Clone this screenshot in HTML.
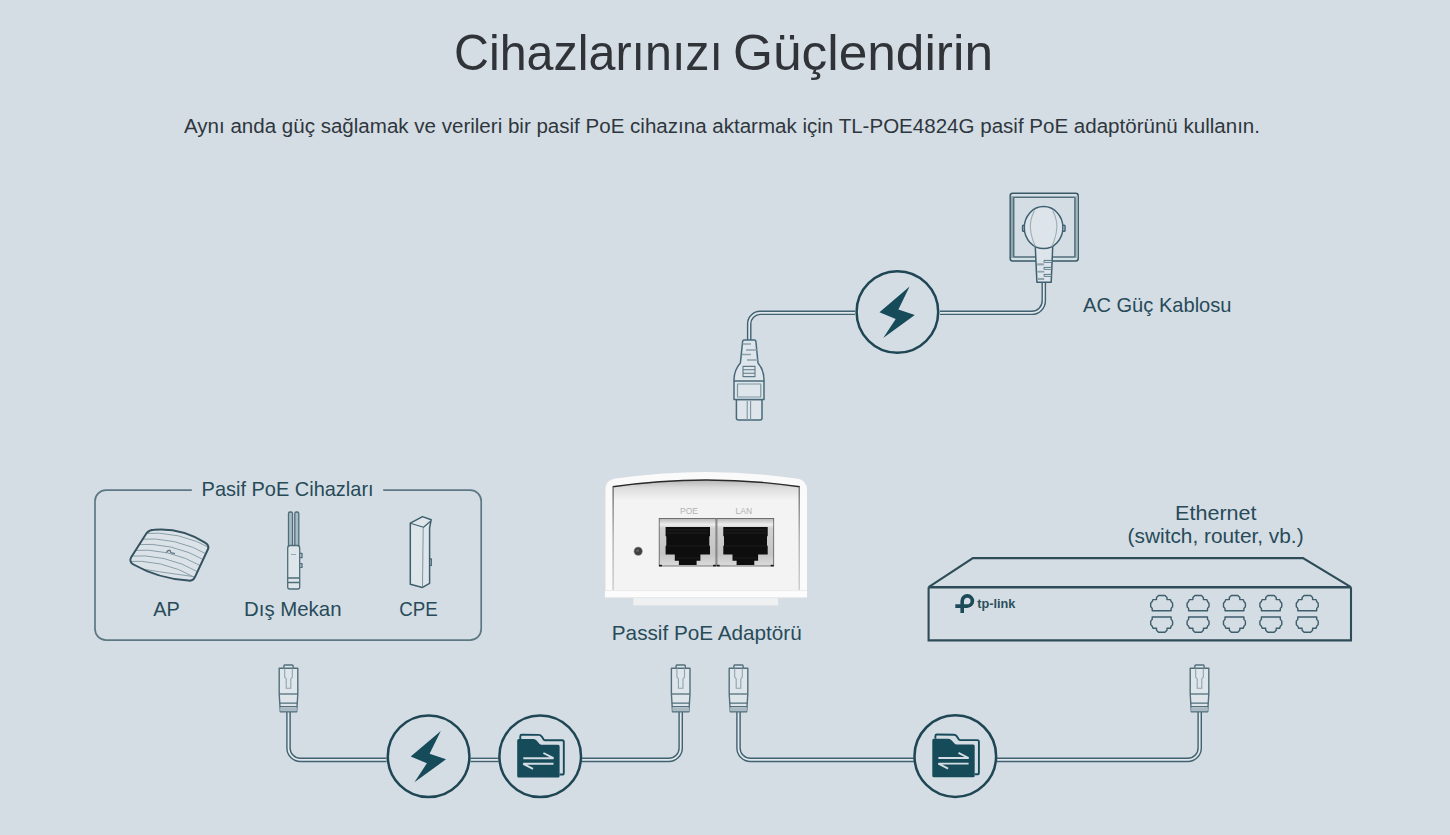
<!DOCTYPE html>
<html><head><meta charset="utf-8">
<style>
html,body{margin:0;padding:0;background:#d5dde4;width:1450px;height:835px;overflow:hidden;}
svg{position:absolute;left:0;top:0;display:block;}
text{font-family:"Liberation Sans",sans-serif;}
</style></head>
<body>
<svg width="1450" height="835" viewBox="0 0 1450 835">
<defs>
  <symbol id="rj45" overflow="visible">
    <!-- origin at center x, top y=665 -->
    <path d="M-4.6,3.2 L-4.6,0.8 Q-4.6,0 -3.8,0 L3.8,0 Q4.6,0 4.6,0.8 L4.6,3.2" fill="#dfe6eb" stroke="#526f7b" stroke-width="1.4"/>
    <path d="M-9.3,3.2 L9.3,3.2 L9.3,29 L8.2,46.8 L-8.2,46.8 L-9.3,29 Z" fill="#dfe6eb" stroke="#526f7b" stroke-width="1.4" stroke-linejoin="round"/>
    <path d="M-3.8,3.2 L-3.8,12 L-2.3,14 L-2.3,23.3 L2.3,23.3 L2.3,14 L3.8,12 L3.8,3.2" fill="none" stroke="#8ea3ad" stroke-width="1.1"/>
    <path d="M-9.3,29 L9.3,29" stroke="#526f7b" stroke-width="1.3"/>
    <path d="M-8.8,38.1 L8.8,38.1 M-8.6,41.7 L8.6,41.7" stroke="#526f7b" stroke-width="1.2"/>
    <path d="M-8.5,42.4 L8.5,42.4 L8.2,46.3 L-8.2,46.3 Z" fill="#a9bac3"/>
  </symbol>
  <symbol id="bolt" overflow="visible">
    <path d="M12.2,-25.4 L-17.9,0.3 L-1.7,6.9 L-14.2,26 L17.4,3 L1.0,-2.6 Z" fill="#164b59"/>
  </symbol>
  <symbol id="folder" overflow="visible">
    <!-- origin = circle center -->
  </symbol>
  <symbol id="port" overflow="visible">
    <path d="M7.2,20.8 L26.1,20.8 L26.1,18.4 L27.6,16.7 L27.6,13.2 L26.1,11.5 L25.5,9.6 L22,9.6 L22,7.5 L20,5.5 L13.5,5.5 L11.5,7.5 L11.5,9.6 L8,9.6 L7.2,11.5 L5.7,13.2 L5.7,16.7 L7.2,18.4 Z" fill="none" stroke="#3d5e6b" stroke-width="1.4" stroke-linejoin="round"/>
    <path d="M7.2,27 L26.1,27 L26.1,29.4 L27.6,31.1 L27.6,34.6 L26.1,36.3 L25.5,38.2 L22,38.2 L22,40.3 L20,42.3 L13.5,42.3 L11.5,40.3 L11.5,38.2 L8,38.2 L7.2,36.3 L5.7,34.6 L5.7,31.1 L7.2,29.4 Z" fill="none" stroke="#3d5e6b" stroke-width="1.4" stroke-linejoin="round"/>
  </symbol>
  <linearGradient id="metal" x1="0" y1="0" x2="0" y2="1">
    <stop offset="0" stop-color="#b9b9b9"/>
    <stop offset="0.12" stop-color="#ededed"/>
    <stop offset="0.2" stop-color="#d0d0d0"/>
    <stop offset="0.75" stop-color="#c4c4c4"/>
    <stop offset="1" stop-color="#dadada"/>
  </linearGradient>
  <linearGradient id="faceTop" x1="0" y1="0" x2="0" y2="1">
    <stop offset="0" stop-color="#b4b4b4"/>
    <stop offset="0.4" stop-color="#dddddd"/>
    <stop offset="1" stop-color="#f3f3f3"/>
  </linearGradient>
  <linearGradient id="sideL" x1="0" y1="0" x2="0" y2="1">
    <stop offset="0" stop-color="#7a7a7a"/>
    <stop offset="0.5" stop-color="#b5b5b5"/>
    <stop offset="1" stop-color="#cfcfcf"/>
  </linearGradient>
</defs>

<!-- Title -->
<text x="454" y="70.3" font-size="50" fill="#303338" textLength="269" lengthAdjust="spacingAndGlyphs">Cihazlarınızı</text>
<text x="733" y="70.3" font-size="50" fill="#303338" textLength="260" lengthAdjust="spacingAndGlyphs">Güçlendirin</text>
<text x="722" y="132.5" text-anchor="middle" font-size="20" fill="#2f373e" textLength="1076" lengthAdjust="spacingAndGlyphs">Aynı anda güç sağlamak ve verileri bir pasif PoE cihazına aktarmak için TL-POE4824G pasif PoE adaptörünü kullanın.</text>

<!-- ============ TOP: AC cable ============ -->
<!-- cable -->
<g fill="none" stroke-linecap="butt">
  <path d="M749.2,340 L749.2,323.8 A11,11 0 0 1 760.2,312.8 L855,312.8" stroke="#3f6170" stroke-width="4.6"/>
  <path d="M749.2,340 L749.2,323.8 A11,11 0 0 1 760.2,312.8 L855,312.8" stroke="#e1e7eb" stroke-width="1.8"/>
  <path d="M940,312.8 L1031.8,312.8 A12,12 0 0 0 1043.8,300.8 L1043.8,282" stroke="#3f6170" stroke-width="4.6"/>
  <path d="M940,312.8 L1031.8,312.8 A12,12 0 0 0 1043.8,300.8 L1043.8,282" stroke="#e1e7eb" stroke-width="1.8"/>
</g>
<circle cx="897.4" cy="312" r="40.8" fill="none" stroke="#1f4654" stroke-width="2.5"/>
<use href="#bolt" x="897.4" y="312"/>

<!-- C13 connector -->
<g stroke="#48697a" stroke-width="1.5" fill="#dfe6eb" stroke-linejoin="round">
  <path d="M736.4,399.5 L762,399.5 L762,418 Q762,420 760,420 L738.4,420 Q736.4,420 736.4,418 Z"/>
  <path d="M744.2,340 L754.3,340 Q755.8,340 755.9,341.5 L758,363 Q764,370 764,380 L764,399.5 L734,399.5 L734,380 Q734,370 740.4,363 L742.6,341.5 Q742.7,340 744.2,340 Z"/>
  <path d="M734,381 L764,381" fill="none"/>
  <rect x="737.5" y="384" width="23.3" height="13" fill="none" stroke="#7d95a1" stroke-width="1.2"/>
  <path d="M747.2,401 L747.2,420 M750.6,401 L750.6,420" fill="none" stroke="#7d95a1" stroke-width="1.1"/>
  <rect x="743" y="366.4" width="12" height="10.2" fill="none" stroke="#5d7a87" stroke-width="1.1"/>
  <path d="M743,369.8 L755,369.8 M743,373.2 L755,373.2" fill="none" stroke="#5d7a87" stroke-width="1.1"/>
  <path d="M742.5,344 L751,344 M746,350 L757,350 M741.8,354.5 L751,354.5 M747,360 L758,360" fill="none" stroke="#8aa0aa" stroke-width="1.3"/>
</g>

<!-- outlet -->
<g stroke-width="1.5">
  <rect x="1010.2" y="193.3" width="68" height="67.6" rx="2.5" fill="#d3e0e5" stroke="#3a5966"/>
  <rect x="1010.9" y="196" width="2.8" height="62" fill="#93a9b2"/>
  <rect x="1074.8" y="196" width="2.8" height="62" fill="#a3b7bf"/>
  <rect x="1013.7" y="197.2" width="61.2" height="59.8" rx="0.8" fill="#d5dde4" stroke="#526e7a"/>
</g>
<!-- plug -->
<g stroke="#3f6070" stroke-width="1.5" fill="#dde5ea" stroke-linejoin="round">
  <rect x="1022.6" y="225.2" width="3" height="6" rx="0.8"/>
  <rect x="1062" y="225.2" width="3" height="6" rx="0.8"/>
  <path d="M1035,240 L1053,240 L1051.2,282.2 L1036.9,282.2 Z"/>
  <ellipse cx="1043.6" cy="227.6" rx="19.3" ry="21"/>
  <path d="M1034.5,210.5 Q1028.5,222 1031,233 Q1033,242 1035.5,246.5 M1052.7,210.5 Q1058.7,222 1056.2,233 Q1054.2,242 1051.7,246.5" fill="none" stroke="#9aadb6" stroke-width="1.1"/>
  <g stroke="#48697a" stroke-width="0.9" fill="#eef3f5">
    <rect x="1044" y="260.4" width="8" height="1.9"/>
    <rect x="1044" y="267.4" width="7.7" height="1.9"/>
    <rect x="1044" y="274.4" width="7.4" height="1.9"/>
  </g>
  <g stroke="none" fill="#8fa4ae">
    <rect x="1037.1" y="263.3" width="7" height="2.1"/>
    <rect x="1037.3" y="270.8" width="7" height="1.8"/>
    <rect x="1037.6" y="277.9" width="6.6" height="2.1"/>
  </g>
</g>

<text x="1083" y="311.7" font-size="21" fill="#274b59" textLength="148.5" lengthAdjust="spacingAndGlyphs">AC Güç Kablosu</text>

<!-- ============ LEFT BOX ============ -->
<path d="M191.8,490.2 L106,490.2 A11,11 0 0 0 95,501.2 L95,629.1 A11,11 0 0 0 106,640.1 L470.2,640.1 A11,11 0 0 0 481.2,629.1 L481.2,501.2 A11,11 0 0 0 470.2,490.2 L383.2,490.2" fill="none" stroke="#5d7884" stroke-width="1.7"/>
<text x="201.6" y="496" font-size="21" fill="#274b59" textLength="172" lengthAdjust="spacingAndGlyphs">Pasif PoE Cihazları</text>
<text x="153.3" y="616" font-size="21" fill="#274b59" textLength="26.5" lengthAdjust="spacingAndGlyphs">AP</text>
<text x="244" y="616" font-size="21" fill="#274b59" textLength="97.5" lengthAdjust="spacingAndGlyphs">Dış Mekan</text>
<text x="399.3" y="616" font-size="21" fill="#274b59" textLength="38.5" lengthAdjust="spacingAndGlyphs">CPE</text>

<!-- AP device -->
<clipPath id="apclip"><path d="M154,529.8 Q181,527.5 205,542.6 Q209.8,545.5 207.8,549.5 L194.8,577.3 Q193,581 188.5,580.6 Q158,578.5 133.5,564.5 Q128.6,561.6 131.2,557.3 L146.8,532.8 Q149.3,530 154,529.8 Z"/></clipPath>
<g stroke-linejoin="round">
  <path d="M154,529.8 Q181,527.5 205,542.6 Q209.8,545.5 207.8,549.5 L194.8,577.3 Q193,581 188.5,580.6 Q158,578.5 133.5,564.5 Q128.6,561.6 131.2,557.3 L146.8,532.8 Q149.3,530 154,529.8 Z" fill="#dce3e8"/>
  <g fill="none" stroke="#7f96a1" stroke-width="0.9" clip-path="url(#apclip)">
    <path d="M140,533.5 Q180,530 214,550"/>
    <path d="M136,539.3 Q176,535.8 210,555.8"/>
    <path d="M132.5,544.7 Q172.5,541.2 206.5,561.2"/>
    <path d="M129,550.5 Q169,547 203,567"/>
    <path d="M125.5,556.2 Q165.5,552.7 199.5,572.7"/>
    <path d="M122,561.6 Q162,558.1 196,578.1"/>
    <path d="M118,565 Q158,572 200,577.5"/>
  </g>
  <path d="M154,529.8 Q181,527.5 205,542.6 Q209.8,545.5 207.8,549.5 L194.8,577.3 Q193,581 188.5,580.6 Q158,578.5 133.5,564.5 Q128.6,561.6 131.2,557.3 L146.8,532.8 Q149.3,530 154,529.8 Z" fill="none" stroke="#34525f" stroke-width="2"/>
  <path d="M166.3,552.8 Q167.5,550 170,550.3 L170.8,552.6 L175,553.6" fill="none" stroke="#5f7884" stroke-width="1.3"/>
</g>

<!-- Outdoor device -->
<g stroke="#4d6d7a" stroke-width="1.3" fill="#dfe6eb" stroke-linejoin="round">
  <rect x="288.5" y="512" width="4" height="36" rx="1.5" fill="#a9bcc4"/>
  <rect x="294.8" y="512" width="4" height="36" rx="1.5" fill="#a9bcc4"/>
  <path d="M300.1,553.4 L302,553.4 L302,557.7 L300.1,557.7 M300.1,563.7 L302,563.7 L302,567.4 L300.1,567.4" fill="none"/>
  <path d="M287.7,548 Q287.7,545.5 290.3,545.5 L297.3,545.5 Q299.7,545.5 299.7,548 L299.7,587 Q299.7,589 297.7,589 L289.7,589 Q287.7,589 287.7,587 Z"/>
  <path d="M291,554.5 L296,554.5" fill="none" stroke="#8aa0aa" stroke-width="0.9"/>
  <path d="M287.5,578 L299.8,578 M287.5,582.5 L299.8,582.5" fill="none"/>
</g>

<!-- CPE device -->
<g stroke="#3e606e" stroke-width="1.5" fill="#dfe6eb" stroke-linejoin="round">
  <path d="M410.3,523.2 L422.5,516.6 L431.2,519.7 L429.6,527.8 L429.6,583.3 L422.5,587.4 L410.3,584.3 Z"/>
  <path d="M410.3,523.2 L423.5,527.3 L430.8,521" fill="none" stroke-width="1.2"/>
  <path d="M423.2,528 L422.5,587" fill="none" stroke="#7d949e" stroke-width="1"/>
  <path d="M429.6,558.9 L431.3,558.9 L431.3,565.5 L429.6,565.5" fill="none" stroke-width="1.2"/>
</g>

<!-- ============ ADAPTER ============ -->
<g>
  <rect x="633.3" y="597" width="144.8" height="9" fill="#eef0f1"/>
  <rect x="633.3" y="605" width="144.8" height="1.2" fill="#dfe3e6"/>
  <path d="M605,598 L605,490 Q605,480.5 614,478.8 Q706,465 798,478.8 Q807,480.5 807,490 L807,598 Z" fill="#fafafa"/>
  <path d="M605.3,597 L605.3,490 Q605.3,481 613,479.2" fill="none" stroke="#e3e3e3" stroke-width="0.8"/>
  <path d="M612.7,591 L612.7,486.5 Q706,472.8 799.8,486.5 L799.8,591 Z" fill="#f3f3f3"/>
  <path d="M612.7,500 L612.7,486.5 Q706,472.8 799.8,486.5 L799.8,500 Z" fill="url(#faceTop)"/>
  <path d="M612.7,486.8 Q706,473.1 799.8,486.8" fill="none" stroke="#2a2a2a" stroke-width="1.4"/>
  <rect x="612.4" y="487" width="1.5" height="103.5" fill="url(#sideL)"/>
  <rect x="798.5" y="487" width="1.5" height="103.5" fill="url(#sideL)"/>
  <rect x="605" y="590.3" width="202" height="7.7" fill="#fcfcfc"/>
  <rect x="605" y="590.3" width="202" height="0.8" fill="#e6e6e6"/>
  <rect x="605" y="597.2" width="202" height="0.9" fill="#e2e4e6"/>
  <!-- LED -->
  <circle cx="638.2" cy="551.3" r="4.5" fill="#8a8a8a"/>
  <circle cx="638.2" cy="551.3" r="3.7" fill="#3f3f3f"/>
  <circle cx="637.6" cy="550.6" r="1.6" fill="#5d5d5d"/>
  <!-- labels -->
  <text x="689" y="514" font-size="8.5" fill="#b2b2b2" text-anchor="middle">POE</text>
  <text x="743.8" y="514" font-size="8.5" fill="#b2b2b2" text-anchor="middle">LAN</text>
  <!-- ports -->
  <g id="port1">
    <rect x="658.8" y="518" width="57.6" height="48.4" fill="#5c5c5c"/>
    <rect x="659.6" y="518.8" width="56" height="46.8" fill="url(#metal)"/>
    <path d="M665.6,527 L710,527 L710,536 L709.3,536.5 L709.3,545.5 L710,546 L710,554.6 L700.4,554.6 L700.4,560.8 L696.6,560.8 L696.6,565 L678.9,565 L678.9,560.8 L674.8,560.8 L674.8,554.6 L665.6,554.6 L665.6,546 L666.3,545.5 L666.3,536.5 L665.6,536 Z" fill="#0e0e0e"/>
    <path d="M667,530 L708.5,530 M667,533 L708.5,533" stroke="#262626" stroke-width="0.8"/>
    <path d="M666.5,546 L709,546 M676,558 L699,558" stroke="#1d1d1d" stroke-width="1"/>
    <rect x="659" y="564.8" width="3" height="1.6" fill="#1a1a1a"/>
    <rect x="713" y="564.8" width="3" height="1.6" fill="#1a1a1a"/>
  </g>
  <use href="#port1" x="57.7" y="0"/>
</g>
<text x="611.8" y="639.6" font-size="21" fill="#274b59" textLength="190" lengthAdjust="spacingAndGlyphs">Passif PoE Adaptörü</text>

<!-- ============ SWITCH ============ -->
<text x="1215.8" y="520" font-size="21" fill="#274b59" text-anchor="middle" textLength="81.5" lengthAdjust="spacingAndGlyphs">Ethernet</text>
<text x="1215.6" y="543.3" font-size="21" fill="#274b59" text-anchor="middle" textLength="176" lengthAdjust="spacingAndGlyphs">(switch, router, vb.)</text>
<g fill="none" stroke="#2e4c57" stroke-linejoin="miter">
  <path d="M928.6,587.2 L972.9,558.1 L1303,558.1 L1351,587.2" stroke-width="2.1"/>
  <path d="M928.6,587.2 L1351,587.2" stroke-width="2.6"/>
  <path d="M928.6,587.2 L928.6,640.4 L1351,640.4 L1351,587.2" stroke-width="2.1"/>
</g>
<g>
  <path d="M962.2,613 L962.2,601 A5.1,5.1 0 1 1 967,606.1 L955.3,606.1" fill="none" stroke="#1d4a58" stroke-width="3.6"/>
  <text x="977.3" y="608" font-size="13" font-weight="bold" fill="#2a4f5d" textLength="38.1" lengthAdjust="spacingAndGlyphs">tp-link</text>
</g>
<use href="#port" x="1145" y="590"/>
<use href="#port" x="1181.4" y="590"/>
<use href="#port" x="1217.8" y="590"/>
<use href="#port" x="1254.2" y="590"/>
<use href="#port" x="1290.6" y="590"/>

<!-- ============ BOTTOM CABLES ============ -->
<g fill="none">
  <path d="M288.5,712 L288.5,747.9 A12,12 0 0 0 300.5,759.9 L386.5,759.9" stroke="#3f6170" stroke-width="4.6"/>
  <path d="M288.5,712 L288.5,747.9 A12,12 0 0 0 300.5,759.9 L386.5,759.9" stroke="#e1e7eb" stroke-width="1.8"/>
  <path d="M470.5,759.9 L498.5,759.9" stroke="#3f6170" stroke-width="4.6"/>
  <path d="M470.5,759.9 L498.5,759.9" stroke="#e1e7eb" stroke-width="1.8"/>
  <path d="M582,759.9 L668.7,759.9 A12,12 0 0 0 680.7,747.9 L680.7,712" stroke="#3f6170" stroke-width="4.6"/>
  <path d="M582,759.9 L668.7,759.9 A12,12 0 0 0 680.7,747.9 L680.7,712" stroke="#e1e7eb" stroke-width="1.8"/>
  <path d="M738.5,712 L738.5,747.9 A12,12 0 0 0 750.5,759.9 L913.8,759.9" stroke="#3f6170" stroke-width="4.6"/>
  <path d="M738.5,712 L738.5,747.9 A12,12 0 0 0 750.5,759.9 L913.8,759.9" stroke="#e1e7eb" stroke-width="1.8"/>
  <path d="M997,759.9 L1187.7,759.9 A12,12 0 0 0 1199.7,747.9 L1199.7,712" stroke="#3f6170" stroke-width="4.6"/>
  <path d="M997,759.9 L1187.7,759.9 A12,12 0 0 0 1199.7,747.9 L1199.7,712" stroke="#e1e7eb" stroke-width="1.8"/>
</g>
<use href="#rj45" x="288.5" y="665"/>
<use href="#rj45" x="680.7" y="665"/>
<use href="#rj45" x="738.5" y="665"/>
<use href="#rj45" x="1199.5" y="665"/>

<circle cx="428.6" cy="756.3" r="40.8" fill="none" stroke="#1f4654" stroke-width="2.5"/>
<use href="#bolt" x="428.6" y="756.3"/>
<circle cx="540.2" cy="756.3" r="40.8" fill="none" stroke="#1f4654" stroke-width="2.5"/>
<circle cx="955.3" cy="756.1" r="40.8" fill="none" stroke="#1f4654" stroke-width="2.5"/>

<!-- folder icons -->
<g id="fold1">
  <path d="M520.3,739 L520.3,736.2 Q520.3,734.7 521.8,734.7 L538.7,734.9 Q540.5,734.9 541.8,736.6 L543.6,739.4 Q544.2,740.3 545.3,740.3 L562.3,740.3 Q563.8,740.3 563.8,742 L563.8,772.9 Q563.8,774.5 562.2,774.5 L559.6,774.5" fill="none" stroke="#164b59" stroke-width="1.9" stroke-linejoin="round"/>
  <path d="M518.7,739 L533.5,739 Q535.3,739 536.6,740.6 L539.4,743.8 Q540.3,744.8 541.6,744.8 L558.1,744.8 Q559.6,744.8 559.6,746.3 L559.6,776 Q559.6,777.5 558.1,777.5 L518.7,777.5 Q517.2,777.5 517.2,776 L517.2,740.5 Q517.2,739 518.7,739 Z" fill="#164b59"/>
  <path d="M523.3,758.2 L553.5,758.2 L543.4,753 M553.5,763.8 L523.3,763.8 L533,768.8" fill="none" stroke="#d5dde4" stroke-width="1.9" stroke-linejoin="miter"/>
</g>
<use href="#fold1" x="415.1" y="-0.2"/>

</svg>
</body></html>
